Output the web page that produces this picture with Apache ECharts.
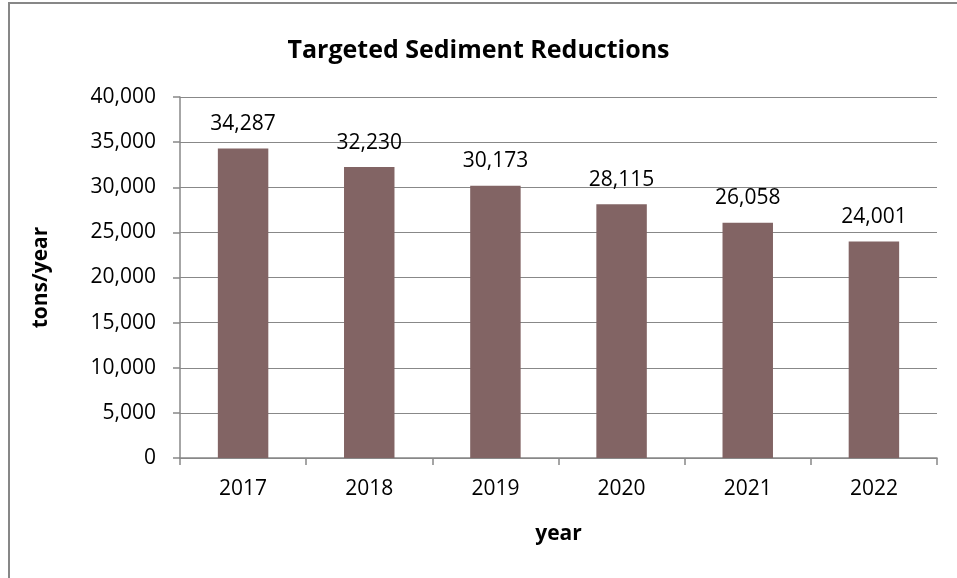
<!DOCTYPE html>
<html><head><meta charset="utf-8">
<script src="https://cdn.jsdelivr.net/npm/echarts@6/dist/echarts.min.js"></script>
<style>
html,body{margin:0;padding:0;background:#fff;}
#frame{position:absolute;left:8px;top:2px;width:1000px;height:700px;border:2px solid #878787;box-sizing:border-box;}
#c{position:absolute;left:0;top:0;width:957px;height:578px;}
</style></head>
<body>
<div id="frame"></div>
<div id="c"></div>
<script>
const categories = ['2017','2018','2019','2020','2021','2022'];
const values = [34287, 32230, 30173, 28115, 26058, 24001];
const yTicks = [0, 5000, 10000, 15000, 20000, 25000, 30000, 35000, 40000];

const chart = echarts.init(document.getElementById('c'), null, {renderer:'canvas'});
const font = '"Open Sans", "Noto Sans", sans-serif';
chart.setOption({
  animation:false,
  backgroundColor:'transparent',
  title:{text:'Targeted Sediment Reductions', left:'center', top:33,
    textStyle:{fontFamily:font, fontWeight:'bold', fontSize:25, color:'#000'}},
  grid:{left:180, right:20, top:97, bottom:120},
  xAxis:{type:'category', data:categories, name:'year', nameLocation:'middle', nameGap:66,
    nameTextStyle:{fontFamily:font, fontWeight:'bold', fontSize:21, color:'#000'},
    axisLine:{lineStyle:{color:'#888', width:1.5}},
    axisTick:{show:true, length:7, lineStyle:{color:'#888', width:1.5}},
    axisLabel:{fontFamily:font, fontSize:21, color:'#000', margin:21}},
  yAxis:{type:'value', min:yTicks[0], max:yTicks[yTicks.length-1], interval:5000,
    name:'tons/year', nameLocation:'middle', nameGap:128, nameRotate:90,
    nameTextStyle:{fontFamily:font, fontWeight:'bold', fontSize:21, color:'#000'},
    axisLine:{show:true, lineStyle:{color:'#888', width:1.5}},
    axisTick:{show:true, length:7, lineStyle:{color:'#888', width:1.5}},
    splitLine:{lineStyle:{color:'#888', width:1.2}},
    axisLabel:{fontFamily:font, fontSize:21, color:'#000', margin:24,
      formatter:v=>v.toLocaleString('en-US')}},
  series:[{type:'bar', data:values, barWidth:'40%',
    itemStyle:{color:'#826464'},
    label:{show:true, position:'top', distance:14, fontFamily:font, fontSize:21, color:'#000',
      formatter:p=>p.value.toLocaleString('en-US')}}]
});
</script>
</body></html>
